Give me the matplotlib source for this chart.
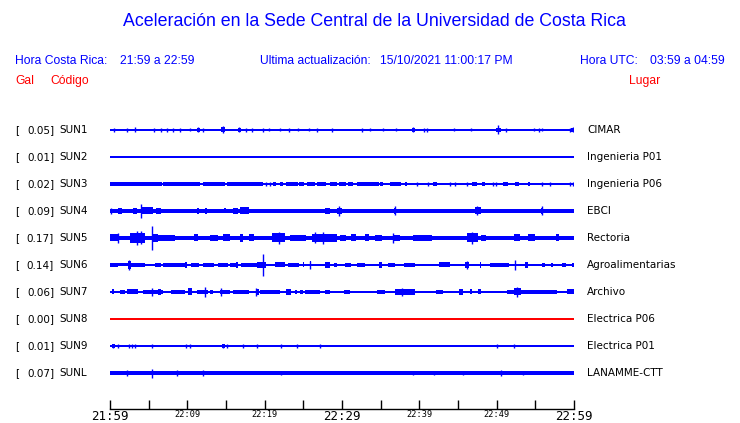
import matplotlib
matplotlib.use("Agg")
import matplotlib.pyplot as plt

# ---------------- data ----------------
STATIONS = ["SUN1", "SUN2", "SUN3", "SUN4", "SUN5", "SUN6", "SUN7", "SUN8", "SUN9", "SUNL"]
PEAK_GAL = [0.05, 0.01, 0.02, 0.09, 0.17, 0.14, 0.06, 0.00, 0.01, 0.07]
PLACES = ["CIMAR", "Ingenieria P01", "Ingenieria P06", "EBCI", "Rectoria",
          "Agroalimentarias", "Archivo", "Electrica P06", "Electrica P01", "LANAMME-CTT"]
TRACE_COLORS = ["blue"] * 7 + ["red"] + ["blue"] * 2
# base noise level of each trace (half amplitude, trace units)
BASE_AMP = [0.8, 0.8, 0.8, 1.8, 2.2, 0.9, 0.9, 0.8, 0.8, 1.6]

TICK_MINUTES = list(range(0, 61, 5))
TICK_LABELS = ["21:59", "", "22:09", "", "22:19", "", "22:29", "", "22:39", "", "22:49", "", "22:59"]
MAJOR_TICK_LABELS = ["21:59", "22:29", "22:59"]

# bursts: (start minute, end minute, half amplitude)
SUN1_BURSTS = [(11.2, 11.6, 1.8), (14.3, 14.9, 2.5), (16.6, 16.9, 1.8), (39.0, 39.4, 1.8),
               (49.9, 50.5, 2.0), (59.6, 60.0, 1.8)]
SUN1_SPIKES = [(0.5, 2), (2.2, 2), (3.2, 2.5), (5.7, 2), (6.6, 2), (7.4, 2), (8.1, 2), (9.1, 2),
               (10.3, 1.5), (11.4, 2.5), (12.0, 2), (14.6, 3.5), (16.7, 2.5), (17.6, 2), (18.4, 2),
               (19.8, 2), (20.6, 1.5), (22.0, 1.5), (23.1, 2), (24.3, 1.5), (25.7, 1.5), (26.8, 2),
               (28.7, 2), (32.6, 2), (33.6, 1.5), (35.3, 1.5), (37.0, 1.5), (39.2, 2.5), (40.6, 2),
               (41.0, 2), (44.5, 1.5), (46.7, 1.5), (50.2, 4.5), (51.2, 2), (54.8, 1.5), (55.5, 2),
               (55.9, 1.5), (59.5, 2), (59.9, 2.5)]
SUN2_BURSTS = []
SUN2_SPIKES = []
SUN3_BURSTS = [(0.0, 6.7, 2), (6.9, 11.6, 2), (12.0, 14.9, 2), (15.1, 19.8, 2), (21.1, 21.5, 2),
               (22.0, 22.4, 2), (22.8, 24.3, 2), (24.4, 25.1, 2), (25.5, 26.5, 2), (26.8, 27.9, 2),
               (28.4, 29.4, 2), (29.6, 30.5, 2), (30.8, 31.4, 2), (31.9, 34.8, 2), (34.9, 35.3, 2),
               (36.2, 37.6, 2), (38.1, 38.4, 2), (41.8, 42.3, 2), (46.8, 47.5, 2), (48.1, 48.5, 2),
               (50.8, 51.5, 2), (52.4, 52.9, 2), (54.1, 54.3, 2)]
SUN3_SPIKES = [(20.2, 1.8), (20.7, 1.8), (39.7, 1.8), (41.1, 1.8), (44.0, 1.8), (44.6, 1.8),
               (46.2, 1.8), (49.5, 1.8), (49.9, 1.8), (55.9, 1.8), (56.9, 1.8), (59.5, 1.8), (59.9, 2)]
SUN4_BURSTS = [(1.0, 1.5, 2.8), (3.0, 3.5, 2.8), (4.2, 5.5, 3.5), (6.0, 6.6, 2.8), (11.3, 11.5, 2.8),
               (12.3, 12.6, 2.8), (14.8, 15.0, 2.5), (15.9, 16.5, 2.8), (16.8, 18.0, 3.5),
               (27.8, 28.4, 3.0), (29.4, 30.0, 2.8), (36.7, 37.0, 3.0), (47.2, 48.0, 3.5),
               (55.7, 56.0, 2.8)]
SUN4_SPIKES = [(0.1, 3), (4.0, 7), (29.6, 5), (36.9, 4.5), (47.4, 4.5), (55.8, 4.5)]
SUN5_BURSTS = [(0.0, 1.0, 3.5), (2.6, 4.5, 4.8), (5.4, 6.2, 4), (6.2, 8.4, 3), (10.8, 11.4, 3.5),
               (12.9, 14.0, 2.8), (14.6, 15.5, 3.5), (16.8, 17.2, 4), (18.0, 18.6, 3.5),
               (21.0, 22.6, 4.5), (23.3, 25.3, 2.8), (26.1, 29.3, 3.8), (29.7, 30.5, 2.8),
               (31.2, 31.8, 3.5), (33.0, 33.5, 3.5), (34.3, 35.2, 3), (36.6, 37.5, 2.8),
               (39.2, 41.7, 3), (46.2, 47.6, 4.5), (48.0, 48.6, 2.8), (52.2, 53.0, 3.5),
               (54.1, 55.0, 3.5), (57.7, 58.0, 3.5)]
SUN5_SPIKES = [(1.0, 5), (3.5, 7), (4.0, 6.5), (5.4, 12), (21.8, 6), (26.5, 5.5), (27.5, 6),
               (36.6, 5), (46.8, 6)]
SUN6_BURSTS = [(0.0, 1.0, 2), (1.0, 2.3, 1.5), (2.3, 2.7, 4.0), (2.7, 4.5, 2), (5.8, 6.6, 2),
               (6.8, 9.7, 2), (9.7, 10.0, 3), (10.5, 11.5, 2), (12.0, 13.5, 2), (14.0, 15.2, 2),
               (15.5, 16.5, 2), (16.3, 16.6, 3), (17.0, 19.0, 2), (19.0, 20.2, 2.8), (21.3, 22.6, 2.5),
               (23.0, 24.5, 2), (24.9, 25.1, 2.5), (25.8, 26.0, 3.5), (27.8, 28.4, 2.8), (29.0, 29.4, 2),
               (30.4, 31.2, 2), (32.0, 33.0, 2), (34.8, 35.2, 2.8), (36.0, 36.8, 2), (38.0, 39.4, 2),
               (42.5, 44.0, 2.5), (45.9, 46.4, 3.2), (47.8, 48.0, 2.8), (49.2, 51.6, 2),
               (53.7, 54.0, 2.8), (55.8, 56.3, 2), (57.0, 57.3, 2), (58.5, 59.0, 2), (59.7, 60.0, 2)]
SUN6_SPIKES = [(2.5, 4.5), (19.8, 10.5), (25.9, 4), (46.1, 3.5), (52.4, 5)]
SUN7_BURSTS = [(0.3, 0.5, 2.5), (1.3, 1.9, 2), (2.2, 3.6, 2.5), (4.3, 6.8, 2), (6.2, 6.6, 3),
               (7.9, 9.7, 2), (10.1, 10.6, 3.5), (11.3, 12.7, 2), (12.9, 13.3, 2), (14.2, 15.5, 2),
               (15.9, 18.0, 2), (18.9, 19.3, 3), (19.4, 22.0, 2), (22.8, 23.4, 2.8), (23.9, 24.2, 2),
               (24.6, 25.0, 2), (25.2, 27.2, 2), (27.8, 28.5, 2), (30.2, 31.0, 2), (34.5, 35.5, 2),
               (36.8, 39.4, 2.8), (42.2, 43.1, 2), (45.1, 45.7, 2.8), (46.5, 46.8, 2.5),
               (47.6, 48.0, 2.5), (51.3, 57.8, 2), (52.3, 53.2, 3.5), (59.1, 60.0, 2.5)]
SUN7_SPIKES = [(5.4, 4), (12.3, 5), (14.4, 4), (18.9, 4), (37.8, 4), (52.6, 5)]
SUN8_BURSTS = []
SUN8_SPIKES = []
SUN9_BURSTS = [(0.3, 0.6, 1.8), (14.5, 14.9, 1.8)]
SUN9_SPIKES = [(0.4, 1.8), (1.0, 1.8), (2.4, 1.8), (2.9, 1.8), (3.2, 1.8), (5.4, 1.8), (9.8, 1.8),
               (10.3, 1.8), (14.6, 1.8), (15.1, 1.8), (17.2, 1.8), (19.0, 1.8), (22.1, 1.8),
               (24.2, 1.8), (27.2, 1.8), (50.0, 1.8), (52.2, 1.8)]
SUNL_BURSTS = []
SUNL_SPIKES = [(2.2, 2.5), (5.4, 4.5), (8.6, 2.5), (12.0, 2.5), (22.1, 2.2), (39.2, 2),
               (41.9, 2), (45.6, 2), (50.6, 2.5), (53.4, 2)]

ALL_BURSTS = [SUN1_BURSTS, SUN2_BURSTS, SUN3_BURSTS, SUN4_BURSTS, SUN5_BURSTS,
              SUN6_BURSTS, SUN7_BURSTS, SUN8_BURSTS, SUN9_BURSTS, SUNL_BURSTS]
ALL_SPIKES = [SUN1_SPIKES, SUN2_SPIKES, SUN3_SPIKES, SUN4_SPIKES, SUN5_SPIKES,
              SUN6_SPIKES, SUN7_SPIKES, SUN8_SPIKES, SUN9_SPIKES, SUNL_SPIKES]

# ---------------- layout ----------------
W, H = 740, 423
fig = plt.figure(figsize=(W / 100, H / 100), dpi=100)
fig.patch.set_facecolor("white")

def fx(px):
    return px / W

def fy(py):
    return 1 - py / H

ROW0, ROW_STEP, AX_Y, X0, X1 = 130, 27, 409, 110, 574
top_row_units = 1.0
bottom_units = -(AX_Y - ROW0) / ROW_STEP
top_px = ROW0 - top_row_units * ROW_STEP
ax = fig.add_axes([fx(X0), fy(AX_Y), fx(X1) - fx(X0), (AX_Y - top_px) / H])
ax.set_xlim(0, 60)
ax.set_ylim(bottom_units, top_row_units)
scale = 1.0 / ROW_STEP  # amplitude units -> row units

for i, st in enumerate(STATIONS):
    y = -i
    c = TRACE_COLORS[i]
    b = BASE_AMP[i] * scale
    ax.fill_between([0, 60], y - b, y + b, color=c, lw=0)
    for (t0, t1, a) in ALL_BURSTS[i]:
        a = a * scale
        ax.fill_between([t0, t1], y - a, y + a, color=c, lw=0)
    for (t, a) in ALL_SPIKES[i]:
        a = a * scale
        ax.vlines(t, y - a, y + a, color=c, lw=1.0)

for s in ["top", "right", "left"]:
    ax.spines[s].set_visible(False)
ax.spines["bottom"].set_linewidth(1.0)
ax.set_yticks([])
ax.set_xticks(TICK_MINUTES)
ax.set_xticklabels(TICK_LABELS)
ax.tick_params(axis="x", direction="in", length=6.8, width=1.0, pad=1.0, color="black")
for lab in ax.get_xticklabels():
    lab.set_family("DejaVu Sans Mono")
    if lab.get_text() in MAJOR_TICK_LABELS:
        lab.set_fontsize(9)
    else:
        lab.set_fontsize(6.2)

# ---------------- texts ----------------
sans = "Liberation Sans"
fig.text(fx(374), fy(21), "Aceleración en la Sede Central de la Universidad de Costa Rica",
         ha="center", va="center", fontsize=12.8, color="blue", family=sans)
hy = fy(61)
hs = 8.7
fig.text(fx(15), hy, "Hora Costa Rica:", ha="left", va="center", fontsize=hs, color="blue", family=sans)
fig.text(fx(120), hy, "21:59 a 22:59", ha="left", va="center", fontsize=hs, color="blue", family=sans)
fig.text(fx(260), hy, "Ultima actualización:", ha="left", va="center", fontsize=hs, color="blue", family=sans)
fig.text(fx(380), hy, "15/10/2021 11:00:17 PM", ha="left", va="center", fontsize=hs, color="blue", family=sans)
fig.text(fx(580), hy, "Hora UTC:", ha="left", va="center", fontsize=hs, color="blue", family=sans)
fig.text(fx(650), hy, "03:59 a 04:59", ha="left", va="center", fontsize=hs, color="blue", family=sans)
ry = fy(81)
fig.text(fx(15), ry, "Gal", ha="left", va="center", fontsize=hs, color="red", family=sans)
fig.text(fx(50), ry, "Código", ha="left", va="center", fontsize=hs, color="red", family=sans)
fig.text(fx(629), ry, "Lugar", ha="left", va="center", fontsize=hs, color="red", family=sans)

for i, st in enumerate(STATIONS):
    yy = fy(ROW0 + i * ROW_STEP)
    fig.text(fx(15), yy, "[", ha="left", va="center", fontsize=7.5, family="DejaVu Sans")
    fig.text(fx(54), yy, f"{PEAK_GAL[i]:.2f}]", ha="right", va="center", fontsize=7.5, family="DejaVu Sans")
    fig.text(fx(59), yy, st, ha="left", va="center", fontsize=7.5, family="DejaVu Sans")
    fig.text(fx(587), yy, PLACES[i], ha="left", va="center", fontsize=7.5, family="DejaVu Sans")

fig.savefig("out.png", dpi=100, facecolor="white")
